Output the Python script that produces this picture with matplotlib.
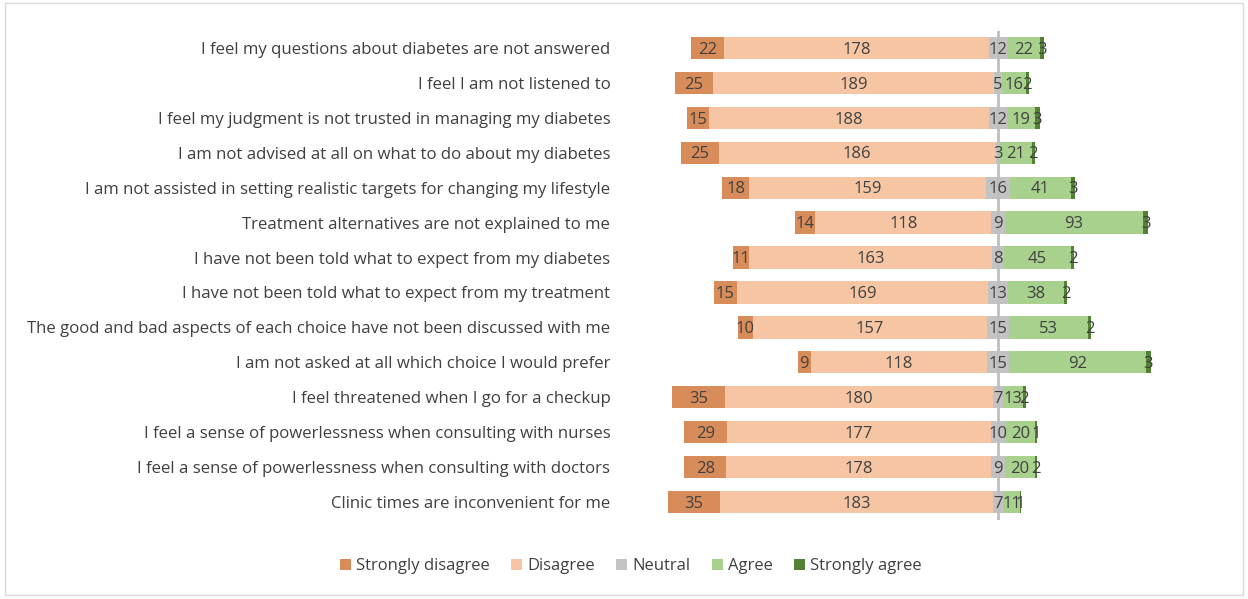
import matplotlib
matplotlib.use("Agg")
import matplotlib.pyplot as plt
from matplotlib.patches import Rectangle, Patch
import numpy as np

questions = [
    "I feel my questions about diabetes are not answered",
    "I feel I am not listened to",
    "I feel my judgment is not trusted in managing my diabetes",
    "I am not advised at all on what to do about my diabetes",
    "I am not assisted in setting realistic targets for changing my lifestyle",
    "Treatment alternatives are not explained to me",
    "I have not been told what to expect from my diabetes",
    "I have not been told what to expect from my treatment",
    "The good and bad aspects of each choice have not been discussed with me",
    "I am not asked at all which choice I would prefer",
    "I feel threatened when I go for a checkup",
    "I feel a sense of powerlessness when consulting with nurses",
    "I feel a sense of powerlessness when consulting with doctors",
    "Clinic times are inconvenient for me",
]
strongly_disagree = [22, 25, 15, 25, 18, 14, 11, 15, 10, 9, 35, 29, 28, 35]
disagree = [178, 189, 188, 186, 159, 118, 163, 169, 157, 118, 180, 177, 178, 183]
neutral = [12, 5, 12, 3, 16, 9, 8, 13, 15, 15, 7, 10, 9, 7]
agree = [22, 16, 19, 21, 41, 93, 45, 38, 53, 92, 13, 20, 20, 11]
strongly_agree = [3, 2, 3, 2, 3, 3, 2, 2, 2, 3, 2, 1, 2, 1]

series_names = ["Strongly disagree", "Disagree", "Neutral", "Agree", "Strongly agree"]
colors = ["#D88C5A", "#F6C6A4", "#C3C3C3", "#A9D18E", "#548235"]

plt.rcParams['font.family'] = ['Open Sans', 'DejaVu Sans']

W, H = 1248, 599
fig = plt.figure(figsize=(W / 100, H / 100), dpi=100)
ax_left, ax_right = 620, 1235
ax_top, ax_bottom = 30.5, 519.5
ax = fig.add_axes([ax_left / W, 1 - ax_bottom / H, (ax_right - ax_left) / W, (ax_bottom - ax_top) / H])

scale = 1.49
center_px = 998
ax.set_xlim(-(center_px - ax_left) / scale, (ax_right - center_px) / scale)
n = len(questions)
ax.set_ylim(n - 0.5, -0.5)

sd = np.array(strongly_disagree, float)
d = np.array(disagree, float)
ne = np.array(neutral, float)
a = np.array(agree, float)
sa = np.array(strongly_agree, float)

starts = [-(ne / 2 + d + sd), -(ne / 2 + d), -ne / 2, ne / 2, ne / 2 + a]
widths = [sd, d, ne, a, sa]
raw = [strongly_disagree, disagree, neutral, agree, strongly_agree]
y = np.arange(n)
h = 0.64
for k in range(5):
    ax.barh(y, widths[k], left=starts[k], height=h, color=colors[k], zorder=2,
            label=series_names[k])

ax.axvline(0, color="#BFBFBF", lw=2, zorder=3)

for k in range(5):
    for i in range(n):
        cx = starts[k][i] + widths[k][i] / 2
        ax.text(cx, y[i] + 0.05, str(raw[k][i]), ha="center", va="center",
                fontsize=12, color="#404040", zorder=4)

ax.set_yticks(y)
ax.set_yticklabels(questions, fontsize=12.1, color="#404040")
ax.tick_params(axis="y", length=0, pad=7)
ax.set_xticks([])
for s in ax.spines.values():
    s.set_visible(False)

handles = [Patch(facecolor=c, edgecolor="none") for c in colors]
fig.legend(handles, series_names, loc="center", bbox_to_anchor=(631 / W, 1 - 566 / H),
           ncol=5, frameon=False, fontsize=12, handlelength=0.65, handleheight=0.65,
           handletextpad=0.3, columnspacing=1.3, labelcolor="#404040")

fig.patches.append(Rectangle((5 / W, 4 / H), 1238 / W, 592 / H, transform=fig.transFigure,
                             fill=False, edgecolor="#D9D9D9", lw=1))

fig.savefig("out.png", dpi=100)
